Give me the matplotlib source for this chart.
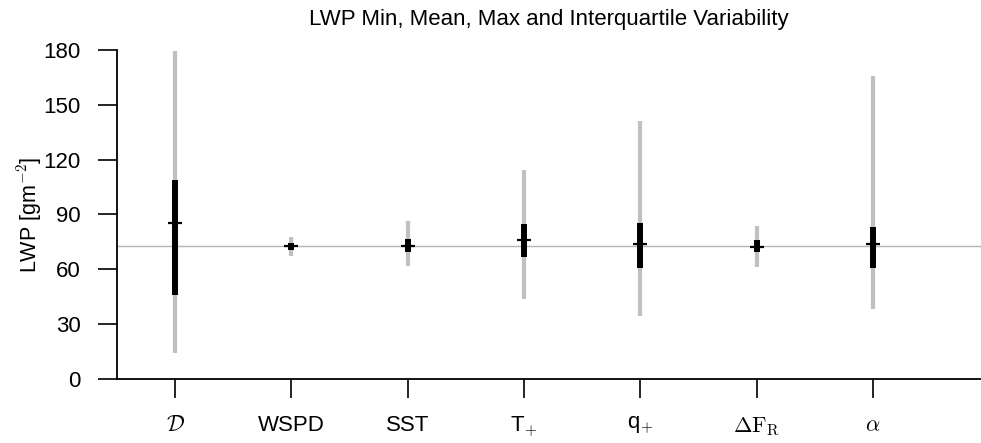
import matplotlib.pyplot as plt

plt.rcParams['font.family'] = ['Liberation Sans', 'DejaVu Sans']
plt.rcParams['mathtext.fontset'] = 'cm'

# variables and LWP statistics [g m^-2]
labels = [r'$\mathcal{D}$', 'WSPD', 'SST', 'T$_{+}$', 'q$_{+}$',
          r'$\Delta\mathrm{F}_\mathrm{R}$', r'$\alpha$']
lwp_min = [14.0, 67.3, 61.8, 43.6, 34.5, 61.4, 38.3]
lwp_max = [179.6, 77.5, 86.6, 114.3, 141.0, 83.7, 165.7]
lwp_q1 = [46.0, 70.6, 69.5, 66.6, 60.7, 69.5, 60.7]
lwp_q3 = [108.9, 74.2, 76.4, 84.8, 85.5, 76.0, 83.3]
lwp_mean = [85.5, 72.8, 72.8, 76.0, 73.7, 72.4, 73.8]
control = 72.8

x = list(range(1, len(labels) + 1))

fig = plt.figure(figsize=(9.81, 4.43), dpi=100)
ax = fig.add_axes([0.1193, 0.1445, 0.8807, 0.7427])

ax.axhline(control, color='#b4b4b4', lw=1, zorder=1)
ax.vlines(x, lwp_min, lwp_max, color='#c0c0c0', lw=3, zorder=2)
ax.vlines(x, lwp_q1, lwp_q3, color='black', lw=4.3, zorder=3)
ax.plot(x, lwp_mean, ls='none', marker='_', ms=10, mew=1.6, color='black', zorder=4)

ax.set_xlim(0.5, 7.93)
ax.set_ylim(0, 180)
ax.set_yticks(range(0, 181, 30))
ax.set_xticks(x)
ax.set_xticklabels(labels)
ax.tick_params(axis='both', length=14, width=1.2, labelsize=16)
ax.tick_params(axis='y', pad=12)
ax.tick_params(axis='x', pad=12)

for s in ['top', 'right']:
    ax.spines[s].set_visible(False)
for s in ['left', 'bottom']:
    ax.spines[s].set_linewidth(1.3)

ax.set_ylabel('LWP [gm$^{-2}$]', fontsize=15.5, labelpad=0)
ax.set_title('LWP Min, Mean, Max and Interquartile Variability', fontsize=16, pad=18)

fig.savefig('out.png', dpi=100)
